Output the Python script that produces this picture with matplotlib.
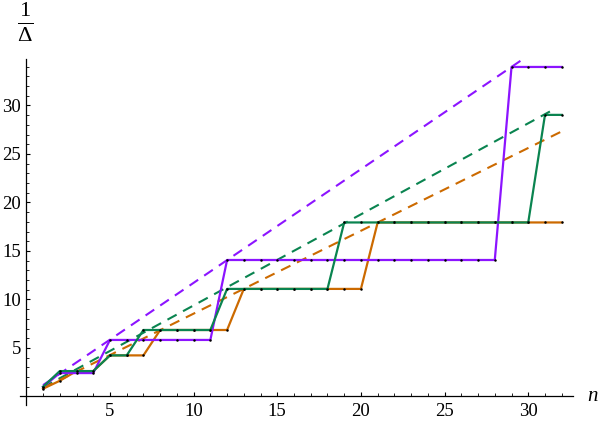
import matplotlib
matplotlib.use('Agg')
import matplotlib.pyplot as plt
import numpy as np

plt.rcParams['font.family'] = ['Liberation Serif', 'DejaVu Serif']
plt.rcParams['mathtext.fontset'] = 'custom'
plt.rcParams['mathtext.rm'] = 'Liberation Serif'
plt.rcParams['mathtext.it'] = 'Liberation Serif:italic'

n = np.arange(1, 33)

# step values
purple = [1.0, 2.414, 2.414, 2.414] + [5.828] * 7 + [14.07] * 17 + [33.97] * 4
green = [1.0, 2.618, 2.618, 2.618, 4.236, 4.236] + [6.854] * 5 + [11.09] * 7 \
    + [17.94] * 12 + [29.03] * 2
orange = [0.8, 1.618, 2.618, 2.618, 4.236, 4.236, 4.236] + [6.854] * 5 \
    + [11.09] * 8 + [17.94] * 12

# dashed trend lines (slopes of the guide lines)
slope_purple = 1.1716
slope_green = 0.9388
slope_orange = 0.854
n_green_end = 31.6

c_purple = '#8C14FF'
c_green = '#0A8450'
c_orange = '#CC6A00'

fig = plt.figure(figsize=(6.0, 4.26), dpi=100)
ax = fig.add_axes([0.0327, 0.0488, 0.923, 0.812])

dash = (5, 3.5)
ax.plot(n, slope_purple * n, color=c_purple, lw=1.5, dashes=dash)
ng = np.array([1, n_green_end])
ax.plot(ng, slope_green * ng, color=c_green, lw=1.5, dashes=dash)
ax.plot(n, slope_orange * n, color=c_orange, lw=1.5, dashes=dash)

for vals, col in [(orange, c_orange), (purple, c_purple), (green, c_green)]:
    ax.plot(n, vals, color=col, lw=1.6)
    ax.plot(n, vals, 'o', color='black', ms=1.8, mew=0)

ax.set_xlim(-0.4, 32.7)
ax.set_ylim(-0.9, 34.76)

for s in ['top', 'right']:
    ax.spines[s].set_visible(False)
ax.spines['left'].set_position(('data', 0))
ax.spines['bottom'].set_position(('data', 0))
ax.spines['left'].set_linewidth(0.9)
ax.spines['bottom'].set_linewidth(0.9)

ax.set_xticks([5, 10, 15, 20, 25, 30])
ax.set_yticks([5, 10, 15, 20, 25, 30])
ax.set_xticks(np.arange(1, 33), minor=True)
ax.set_yticks(np.arange(1, 35), minor=True)
ax.tick_params(which='major', direction='in', length=3.2, width=0.8, labelsize=13.5, pad=4)
ax.tick_params(which='minor', direction='in', length=2.0, width=0.6)
ax.tick_params(axis='x', pad=5)

fig.text(0.0417, 0.948, r'$\frac{1}{\Delta}$', fontsize=23, ha='center', va='center')
fig.text(0.988, 0.069, 'n', fontsize=15, style='italic', ha='center', va='center')

fig.savefig('out.png', dpi=100)
